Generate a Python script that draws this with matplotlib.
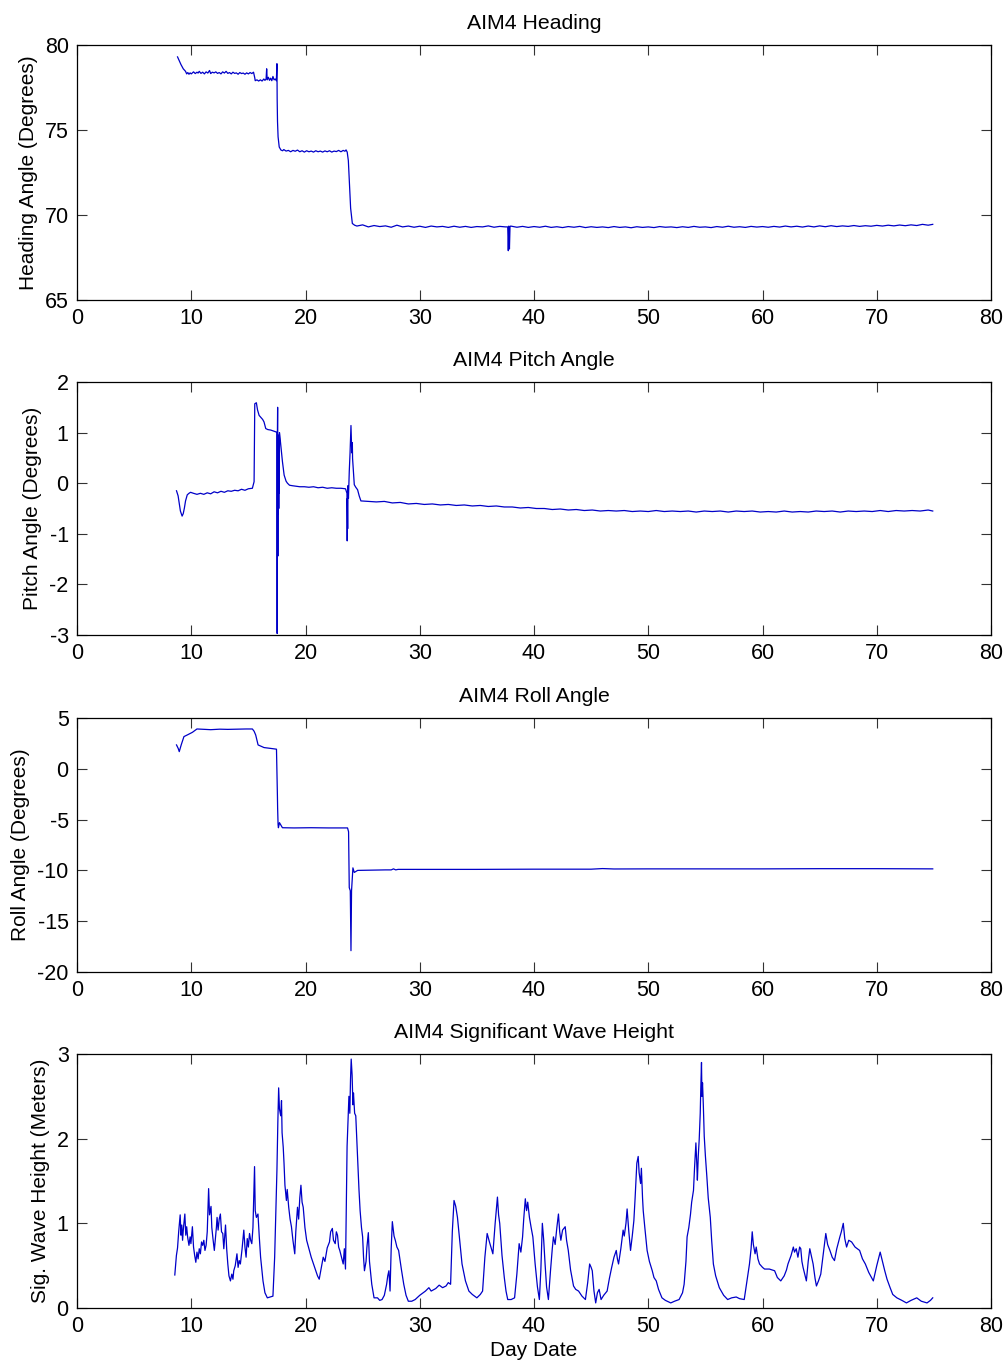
import matplotlib
matplotlib.use("Agg")
import matplotlib.pyplot as plt

plt.rcParams['font.family'] = ['Liberation Sans', 'DejaVu Sans']
plt.rcParams['axes.unicode_minus'] = False

# ---------------- data ----------------
x_ticks = [0, 10, 20, 30, 40, 50, 60, 70, 80]

# (day, heading degrees)
heading_obs = [
    (8.8, 79.3), (8.9, 79.15), (9.1, 78.85), (9.3, 78.6), (9.5, 78.45), (9.6, 78.3),
    (9.7, 78.38), (9.8, 78.28), (9.9, 78.36), (10.0, 78.3), (10.2, 78.42), (10.35, 78.32),
    (10.5, 78.4), (10.6, 78.35), (10.7, 78.45), (10.85, 78.33), (11.0, 78.4), (11.15, 78.3),
    (11.3, 78.42), (11.45, 78.35), (11.6, 78.5), (11.7, 78.32), (11.85, 78.4), (12.0, 78.36),
    (12.15, 78.42), (12.3, 78.33), (12.45, 78.38), (12.6, 78.3), (12.75, 78.42), (12.9, 78.35),
    (13.05, 78.45), (13.2, 78.33), (13.35, 78.38), (13.5, 78.3), (13.65, 78.4), (13.8, 78.33),
    (13.95, 78.36), (14.1, 78.28), (14.25, 78.38), (14.4, 78.32), (14.55, 78.35), (14.7, 78.28),
    (14.85, 78.36), (15.0, 78.3), (15.15, 78.38), (15.3, 78.32), (15.45, 78.4), (15.55, 78.1),
    (15.6, 77.9), (15.75, 77.95), (15.9, 77.88), (16.05, 77.95), (16.2, 77.88), (16.35, 78.0),
    (16.45, 77.92), (16.55, 78.0), (16.6, 78.6), (16.65, 77.95), (16.75, 78.1), (16.85, 77.92),
    (16.95, 78.05), (17.05, 77.9), (17.15, 78.15), (17.25, 77.95), (17.35, 78.0), (17.45, 77.9),
    (17.5, 78.9), (17.52, 76.8), (17.55, 75.5), (17.6, 74.6), (17.7, 74.0), (17.85, 73.82),
    (18.0, 73.78), (18.1, 73.85), (18.3, 73.76), (18.5, 73.8), (18.7, 73.72), (18.9, 73.8),
    (19.1, 73.75), (19.3, 73.82), (19.5, 73.72), (19.7, 73.78), (19.9, 73.7), (20.1, 73.78),
    (20.3, 73.72), (20.5, 73.76), (20.7, 73.7), (20.9, 73.78), (21.1, 73.72), (21.3, 73.76),
    (21.5, 73.7), (21.7, 73.77), (21.9, 73.72), (22.1, 73.78), (22.3, 73.7), (22.5, 73.76),
    (22.7, 73.73), (22.9, 73.8), (23.1, 73.72), (23.3, 73.8), (23.45, 73.75), (23.55, 73.83),
    (23.65, 73.7), (23.75, 73.2), (23.85, 71.8), (23.95, 70.4), (24.1, 69.5), (24.3, 69.4),
    (24.5, 69.35), (25.0, 69.42), (25.5, 69.3), (26.0, 69.38), (26.5, 69.32), (27.0, 69.36),
    (27.5, 69.28), (28.0, 69.4), (28.5, 69.3), (29.0, 69.35), (29.5, 69.28), (30.0, 69.34),
    (30.5, 69.27), (31.0, 69.35), (31.5, 69.3), (32.0, 69.33), (32.5, 69.27), (33.0, 69.34),
    (33.5, 69.28), (34.0, 69.33), (34.5, 69.27), (35.0, 69.32), (35.5, 69.3), (36.0, 69.36),
    (36.5, 69.28), (37.0, 69.33), (37.5, 69.3), (37.7, 69.3), (37.75, 67.9), (37.8, 69.35),
    (37.85, 68.0), (37.9, 69.3), (37.95, 69.35), (38.5, 69.28), (39.0, 69.33), (39.5, 69.27),
    (40.0, 69.32), (40.5, 69.28), (41.0, 69.34), (41.5, 69.27), (42.0, 69.31), (42.5, 69.26),
    (43.0, 69.32), (43.5, 69.28), (44.0, 69.33), (44.5, 69.26), (45.0, 69.31), (45.5, 69.27),
    (46.0, 69.3), (46.5, 69.26), (47.0, 69.32), (47.5, 69.27), (48.0, 69.3), (48.5, 69.25),
    (49.0, 69.31), (49.5, 69.27), (50.0, 69.3), (50.5, 69.26), (51.0, 69.32), (51.5, 69.28),
    (52.0, 69.3), (52.5, 69.26), (53.0, 69.31), (53.5, 69.27), (54.0, 69.33), (54.5, 69.28),
    (55.0, 69.3), (55.5, 69.26), (56.0, 69.32), (56.5, 69.28), (57.0, 69.34), (57.5, 69.28),
    (58.0, 69.31), (58.5, 69.27), (59.0, 69.33), (59.5, 69.29), (60.0, 69.32), (60.5, 69.28),
    (61.0, 69.33), (61.5, 69.29), (62.0, 69.35), (62.5, 69.3), (63.0, 69.34), (63.5, 69.29),
    (64.0, 69.35), (64.5, 69.3), (65.0, 69.36), (65.5, 69.31), (66.0, 69.37), (66.5, 69.32),
    (67.0, 69.36), (67.5, 69.33), (68.0, 69.38), (68.5, 69.33), (69.0, 69.37), (69.5, 69.34),
    (70.0, 69.39), (70.5, 69.35), (71.0, 69.4), (71.5, 69.36), (72.0, 69.41), (72.5, 69.37),
    (73.0, 69.42), (73.5, 69.38), (74.0, 69.45), (74.5, 69.4), (74.9, 69.45)]

# (day, pitch degrees)
pitch_obs = [
    (8.71, -0.15), (8.85, -0.25), (8.92, -0.36), (9.05, -0.55), (9.2, -0.65), (9.3, -0.6),
    (9.4, -0.49), (9.5, -0.35), (9.65, -0.23), (9.8, -0.2), (9.94, -0.18), (10.2, -0.2),
    (10.5, -0.22), (10.8, -0.2), (11.1, -0.22), (11.4, -0.19), (11.7, -0.21), (12.0, -0.17),
    (12.3, -0.19), (12.6, -0.16), (12.9, -0.18), (13.2, -0.15), (13.5, -0.16), (13.8, -0.14),
    (14.1, -0.15), (14.4, -0.12), (14.7, -0.14), (15.0, -0.11), (15.35, -0.1), (15.5, 0.03),
    (15.56, 1.57), (15.7, 1.59), (15.8, 1.45), (15.94, 1.34), (16.1, 1.3), (16.25, 1.26),
    (16.37, 1.21), (16.52, 1.08), (16.7, 1.06), (16.96, 1.05), (17.2, 1.03), (17.46, 1.01),
    (17.5, 1.0), (17.52, -2.97), (17.54, 0.94), (17.56, 1.5), (17.58, -1.44), (17.6, 0.9),
    (17.62, -0.6), (17.64, 0.95), (17.66, -0.5), (17.68, 0.9), (17.7, -0.2), (17.72, 1.0),
    (17.78, 0.88), (17.9, 0.6), (17.98, 0.43), (18.13, 0.16), (18.3, 0.04), (18.42, 0.0),
    (18.6, -0.04), (18.86, -0.05), (19.2, -0.06), (19.5, -0.07), (19.9, -0.07), (20.3, -0.08),
    (20.7, -0.07), (21.1, -0.09), (21.5, -0.08), (21.9, -0.1), (22.3, -0.09), (22.7, -0.1),
    (23.1, -0.1), (23.5, -0.11), (23.63, -0.2), (23.65, -1.14), (23.67, -0.3), (23.69, -0.9),
    (23.71, -0.05), (23.76, -0.3), (23.83, 0.23), (23.9, 0.6), (23.98, 1.14), (24.05, 0.6),
    (24.1, 0.8), (24.12, 0.49), (24.2, 0.2), (24.27, -0.03), (24.4, -0.08), (24.56, -0.13),
    (24.7, -0.25), (24.85, -0.35), (25.5, -0.36), (26.2, -0.37), (26.9, -0.36), (27.6, -0.39),
    (28.3, -0.38), (29.0, -0.41), (29.7, -0.4), (30.4, -0.42), (31.1, -0.41), (31.8, -0.43),
    (32.5, -0.42), (33.2, -0.44), (33.9, -0.43), (34.6, -0.45), (35.3, -0.44), (36.0, -0.46),
    (36.7, -0.45), (37.4, -0.47), (38.1, -0.47), (38.8, -0.49), (39.5, -0.48), (40.2, -0.5),
    (40.9, -0.5), (41.6, -0.52), (42.3, -0.51), (43.0, -0.53), (43.7, -0.52), (44.4, -0.54),
    (45.1, -0.53), (45.8, -0.55), (46.5, -0.54), (47.2, -0.55), (47.9, -0.54), (48.6, -0.56),
    (49.3, -0.55), (50.0, -0.56), (50.7, -0.54), (51.4, -0.56), (52.1, -0.55), (52.8, -0.56),
    (53.5, -0.55), (54.2, -0.57), (54.9, -0.55), (55.6, -0.56), (56.3, -0.55), (57.0, -0.57),
    (57.7, -0.55), (58.4, -0.56), (59.1, -0.55), (59.8, -0.57), (60.5, -0.56), (61.2, -0.57),
    (61.9, -0.55), (62.6, -0.57), (63.3, -0.56), (64.0, -0.57), (64.7, -0.55), (65.4, -0.56),
    (66.1, -0.55), (66.8, -0.57), (67.5, -0.55), (68.2, -0.56), (68.9, -0.55), (69.6, -0.56),
    (70.3, -0.54), (71.0, -0.56), (71.7, -0.54), (72.4, -0.55), (73.1, -0.54), (73.8, -0.55),
    (74.5, -0.53), (74.9, -0.55)]

# (day, roll degrees)
roll_obs = [
    (8.71, 2.35), (8.86, 2.0), (8.95, 1.69), (9.12, 2.35), (9.36, 3.17), (9.65, 3.33),
    (10.1, 3.59), (10.5, 3.92), (11.2, 3.88), (11.7, 3.85), (12.5, 3.9), (13.2, 3.88),
    (14.0, 3.9), (14.8, 3.92), (15.35, 3.92), (15.5, 3.7), (15.64, 3.33), (15.85, 2.35),
    (16.37, 2.09), (17.0, 2.0), (17.46, 1.93), (17.54, -2.56), (17.56, -3.86), (17.6, -5.5),
    (17.63, -5.8), (17.72, -5.3), (17.98, -5.8), (19.0, -5.82), (20.5, -5.8), (22.0, -5.82),
    (23.68, -5.82), (23.77, -6.2), (23.83, -11.7), (23.92, -12.0), (23.98, -17.9), (24.03, -12.0),
    (24.15, -9.75), (24.27, -10.2), (24.56, -10.0), (27.0, -9.95), (27.5, -9.95), (27.7, -9.85),
    (27.9, -9.95), (28.1, -9.9), (30.0, -9.9), (35.0, -9.9), (40.0, -9.88), (45.0, -9.88),
    (46.0, -9.82), (47.0, -9.86), (50.0, -9.85), (55.0, -9.85), (60.0, -9.85), (65.0, -9.83),
    (70.0, -9.83), (74.9, -9.85)]

# (day, significant wave height m)
wave_obs = [
    (8.56, 0.39), (8.7, 0.62), (8.8, 0.71), (8.9, 0.9), (9.03, 1.10), (9.1, 0.86), (9.17, 0.98),
    (9.24, 0.80), (9.32, 0.95), (9.44, 1.11), (9.52, 0.86), (9.6, 0.96), (9.68, 0.84), (9.8, 0.74),
    (9.9, 0.84), (9.97, 0.76), (10.1, 0.96), (10.2, 0.72), (10.3, 0.62), (10.4, 0.54), (10.5, 0.66),
    (10.6, 0.58), (10.7, 0.70), (10.8, 0.64), (10.9, 0.78), (11.0, 0.74), (11.1, 0.80), (11.2, 0.68),
    (11.3, 0.74), (11.4, 0.90), (11.52, 1.41), (11.6, 1.10), (11.73, 1.20), (11.8, 0.95), (11.9, 0.82),
    (12.02, 0.68), (12.1, 0.80), (12.2, 0.95), (12.26, 1.07), (12.35, 0.92), (12.45, 1.05), (12.55, 1.11),
    (12.65, 0.90), (12.76, 0.88), (12.85, 0.70), (13.0, 0.98), (13.1, 0.70), (13.2, 0.52), (13.3, 0.38),
    (13.43, 0.32), (13.55, 0.40), (13.65, 0.34), (13.72, 0.44), (13.85, 0.50), (14.0, 0.64), (14.1, 0.48),
    (14.2, 0.56), (14.3, 0.52), (14.45, 0.70), (14.6, 0.92), (14.7, 0.72), (14.8, 0.60), (14.9, 0.82),
    (15.0, 0.72), (15.1, 0.88), (15.2, 0.80), (15.3, 0.76), (15.4, 0.95), (15.54, 1.67), (15.6, 1.15),
    (15.7, 1.07), (15.84, 1.11), (15.95, 0.85), (16.07, 0.60), (16.28, 0.32), (16.45, 0.18), (16.66, 0.12),
    (16.9, 0.13), (17.15, 0.14), (17.3, 0.6), (17.5, 1.63), (17.58, 2.2), (17.65, 2.60), (17.72, 2.35),
    (17.83, 2.27), (17.9, 2.45), (17.95, 2.07), (18.05, 1.90), (18.12, 1.71), (18.2, 1.45), (18.33, 1.27),
    (18.4, 1.40), (18.53, 1.19), (18.65, 1.05), (18.77, 0.96), (18.9, 0.80), (19.06, 0.64), (19.15, 0.9),
    (19.3, 1.19), (19.4, 1.05), (19.5, 1.30), (19.6, 1.45), (19.7, 1.25), (19.8, 1.19), (19.95, 0.95),
    (20.1, 0.80), (20.3, 0.70), (20.5, 0.60), (20.7, 0.52), (20.9, 0.44), (21.05, 0.38), (21.2, 0.34),
    (21.35, 0.45), (21.55, 0.60), (21.7, 0.55), (21.9, 0.71), (22.1, 0.78), (22.2, 0.90), (22.35, 0.94),
    (22.45, 0.80), (22.6, 0.76), (22.7, 0.90), (22.8, 0.86), (22.9, 0.72), (23.0, 0.68), (23.15, 0.60),
    (23.3, 0.52), (23.4, 0.70), (23.5, 0.46), (23.64, 1.91), (23.72, 2.20), (23.8, 2.50), (23.88, 2.30),
    (23.94, 2.70), (24.0, 2.94), (24.08, 2.75), (24.15, 2.40), (24.2, 2.54), (24.3, 2.30), (24.4, 2.27),
    (24.5, 1.95), (24.57, 1.75), (24.68, 1.40), (24.78, 1.15), (24.9, 0.95), (25.0, 0.84), (25.08, 0.60),
    (25.16, 0.44), (25.3, 0.55), (25.37, 0.71), (25.5, 0.89), (25.6, 0.55), (25.8, 0.28), (26.0, 0.12),
    (26.3, 0.12), (26.5, 0.09), (26.7, 0.10), (26.9, 0.15), (27.1, 0.28), (27.2, 0.38), (27.3, 0.44),
    (27.4, 0.20), (27.5, 0.70), (27.6, 1.02), (27.75, 0.85), (27.86, 0.80), (28.0, 0.72), (28.15, 0.68),
    (28.4, 0.45), (28.6, 0.28), (28.8, 0.15), (29.0, 0.08), (29.3, 0.08), (29.6, 0.10), (30.0, 0.15),
    (30.5, 0.20), (30.8, 0.24), (31.0, 0.20), (31.4, 0.23), (31.7, 0.27), (32.0, 0.24), (32.3, 0.26),
    (32.5, 0.30), (32.7, 0.28), (32.85, 0.9), (33.0, 1.27), (33.15, 1.20), (33.3, 1.07), (33.5, 0.80),
    (33.7, 0.52), (34.0, 0.32), (34.3, 0.20), (34.6, 0.16), (35.0, 0.12), (35.3, 0.16), (35.5, 0.20),
    (35.7, 0.60), (35.9, 0.88), (36.1, 0.78), (36.4, 0.64), (36.6, 1.00), (36.8, 1.31), (36.9, 1.10),
    (37.0, 1.00), (37.2, 0.62), (37.4, 0.36), (37.55, 0.20), (37.7, 0.10), (38.0, 0.10), (38.3, 0.12),
    (38.5, 0.40), (38.7, 0.76), (38.85, 0.66), (39.0, 0.84), (39.1, 1.05), (39.24, 1.29), (39.35, 1.15),
    (39.45, 1.25), (39.6, 1.07), (39.75, 0.95), (39.9, 0.84), (40.1, 0.52), (40.3, 0.25), (40.47, 0.10),
    (40.6, 0.45), (40.73, 1.00), (40.85, 0.80), (40.97, 0.52), (41.1, 0.25), (41.26, 0.10), (41.45, 0.45),
    (41.6, 0.70), (41.7, 0.84), (41.85, 0.75), (42.0, 0.95), (42.14, 1.11), (42.25, 0.90), (42.35, 0.80),
    (42.5, 0.92), (42.73, 0.96), (42.85, 0.80), (43.0, 0.68), (43.2, 0.45), (43.46, 0.26), (43.65, 0.22),
    (43.9, 0.20), (44.2, 0.14), (44.5, 0.10), (44.7, 0.30), (44.87, 0.52), (45.0, 0.48), (45.1, 0.44),
    (45.25, 0.20), (45.4, 0.06), (45.55, 0.18), (45.7, 0.22), (45.87, 0.10), (46.1, 0.15), (46.4, 0.20),
    (46.6, 0.35), (46.8, 0.48), (47.0, 0.60), (47.2, 0.68), (47.3, 0.58), (47.4, 0.52), (47.6, 0.70),
    (47.8, 0.92), (47.9, 0.85), (48.05, 1.00), (48.15, 1.17), (48.3, 0.90), (48.45, 0.68), (48.6, 0.85),
    (48.74, 1.03), (48.85, 1.30), (49.0, 1.71), (49.12, 1.79), (49.2, 1.60), (49.33, 1.47), (49.4, 1.65),
    (49.5, 1.30), (49.56, 1.15), (49.7, 0.95), (49.9, 0.68), (50.1, 0.55), (50.35, 0.44), (50.5, 0.36),
    (50.7, 0.32), (50.9, 0.22), (51.2, 0.12), (51.5, 0.09), (51.97, 0.06), (52.3, 0.08), (52.7, 0.10),
    (53.0, 0.18), (53.14, 0.28), (53.3, 0.55), (53.4, 0.84), (53.55, 0.95), (53.7, 1.11), (53.8, 1.25),
    (53.96, 1.39), (54.05, 1.65), (54.17, 1.95), (54.25, 1.70), (54.3, 1.51), (54.38, 1.80), (54.46, 1.99),
    (54.55, 2.30), (54.6, 2.60), (54.66, 2.90), (54.7, 2.50), (54.75, 2.66), (54.82, 2.40), (54.9, 2.03),
    (55.0, 1.80), (55.13, 1.55), (55.25, 1.30), (55.43, 1.07), (55.55, 0.80), (55.7, 0.52), (55.9, 0.38),
    (56.22, 0.24), (56.6, 0.15), (56.95, 0.10), (57.3, 0.12), (57.7, 0.13), (58.0, 0.11), (58.4, 0.10),
    (58.6, 0.28), (58.86, 0.52), (59.0, 0.70), (59.1, 0.90), (59.2, 0.75), (59.35, 0.64), (59.45, 0.72),
    (59.6, 0.58), (59.74, 0.52), (60.0, 0.48), (60.18, 0.46), (60.6, 0.46), (61.06, 0.44), (61.3, 0.36),
    (61.6, 0.32), (61.9, 0.38), (62.1, 0.45), (62.23, 0.52), (62.5, 0.62), (62.7, 0.72), (62.8, 0.66),
    (62.95, 0.70), (63.1, 0.60), (63.25, 0.72), (63.35, 0.70), (63.45, 0.55), (63.55, 0.48), (63.7, 0.40),
    (63.84, 0.32), (64.0, 0.55), (64.14, 0.70), (64.3, 0.60), (64.43, 0.52), (64.6, 0.35), (64.72, 0.26),
    (64.9, 0.32), (65.1, 0.40), (65.3, 0.62), (65.54, 0.88), (65.7, 0.75), (65.9, 0.68), (66.1, 0.60),
    (66.3, 0.56), (66.5, 0.70), (66.77, 0.84), (66.9, 0.90), (67.07, 1.00), (67.2, 0.82), (67.36, 0.72),
    (67.55, 0.80), (67.8, 0.78), (68.1, 0.72), (68.5, 0.68), (68.75, 0.58), (69.0, 0.52), (69.3, 0.42),
    (69.7, 0.32), (70.0, 0.50), (70.3, 0.66), (70.5, 0.55), (70.7, 0.44), (70.9, 0.34), (71.17, 0.24),
    (71.4, 0.16), (71.76, 0.12), (72.2, 0.09), (72.6, 0.06), (73.0, 0.09), (73.5, 0.12), (73.9, 0.08),
    (74.4, 0.06), (74.7, 0.09), (74.9, 0.12)]

heading_day, heading_deg = zip(*heading_obs)
pitch_day, pitch_deg = zip(*pitch_obs)
roll_day, roll_deg = zip(*roll_obs)
wave_day, wave_m = zip(*wave_obs)

titles = ["AIM4 Heading", "AIM4 Pitch Angle", "AIM4 Roll Angle",
          "AIM4 Significant Wave Height"]
ylabels = ["Heading Angle (Degrees)", "Pitch Angle (Degrees)",
           "Roll Angle (Degrees)", "Sig. Wave Height (Meters)"]
yticks_list = [[65, 70, 75, 80], [-3, -2, -1, 0, 1, 2],
               [-20, -15, -10, -5, 0, 5], [0, 1, 2, 3]]
xlabel = "Day Date"

# ---------------- layout ----------------
W, H = 1008, 1368
fig = plt.figure(figsize=(W / 100, H / 100), dpi=100)
fig.patch.set_facecolor('white')

left_px, right_px = 77, 991
panels_px = [(45, 300), (382, 635), (718, 972), (1054, 1308)]

series = [(heading_day, heading_deg), (pitch_day, pitch_deg),
          (roll_day, roll_deg), (wave_day, wave_m)]

for i, ((top, bot), (xd, yd)) in enumerate(zip(panels_px, series)):
    ax = fig.add_axes([left_px / W, 1 - bot / H,
                       (right_px - left_px) / W, (bot - top) / H])
    ax.plot(xd, yd, color='#0000c8', linewidth=0.9)
    yt = yticks_list[i]
    ax.set_xlim(0, 80)
    ax.set_ylim(yt[0], yt[-1])
    ax.set_xticks(x_ticks)
    ax.set_yticks(yt)
    ax.tick_params(direction='in', top=True, right=True, length=7,
                   width=0.8, labelsize=15.5, pad=6, color='#333333')
    for sp in ax.spines.values():
        sp.set_linewidth(0.9)
        sp.set_color('black')
    ax.set_title(titles[i], fontsize=15.3, pad=11.5)
    ax.set_ylabel(ylabels[i], fontsize=15, labelpad=5)
    if i == 3:
        ax.set_xlabel(xlabel, fontsize=15, labelpad=3)

fig.savefig("out.png", dpi=100)
